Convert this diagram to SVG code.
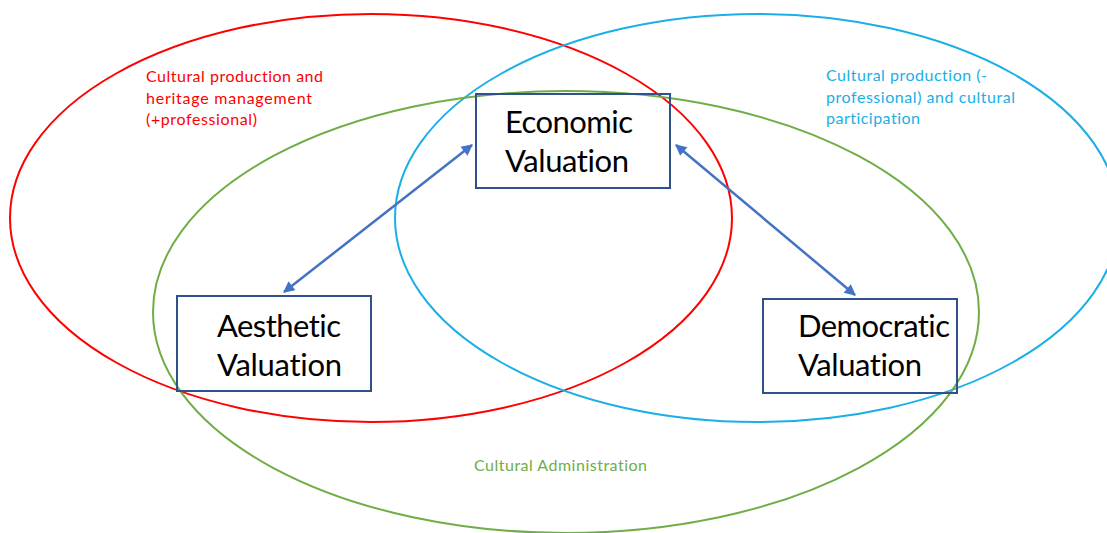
<svg xmlns="http://www.w3.org/2000/svg" width="1107" height="533" viewBox="0 0 1107 533">
<defs>
<style>
text{font-variant-ligatures:none;font-feature-settings:"liga" 0}
.ell{fill:none;stroke-width:2}
.box{fill:none;stroke:#2F528F;stroke-width:2}
.node{font-family:Lato,"Open Sans","Liberation Sans",sans-serif;font-size:31px;fill:#000}
.lbl{font-family:Lato,"Open Sans","Liberation Sans",sans-serif;font-size:16px}
.conn{stroke:#4472C4;stroke-width:2.5;fill:none;marker-start:url(#ah);marker-end:url(#ah)}
</style>
<marker id="ah" viewBox="0 0 10 10" refX="9" refY="5" markerWidth="5.5" markerHeight="4.5" orient="auto-start-reverse" markerUnits="strokeWidth">
<path d="M0,0 L10,5 L0,10 z" fill="#4472C4"/>
</marker>
</defs>
<rect width="1107" height="533" fill="#fff"/>
<g id="circles">
<ellipse id="red-set" class="ell" cx="371" cy="218" rx="361" ry="204" stroke="#FF0000"/>
<ellipse id="blue-set" class="ell" cx="757" cy="218" rx="362" ry="204" stroke="#1AAFE6"/>
<ellipse id="green-set" class="ell" cx="566" cy="312" rx="413" ry="221" stroke="#70AD47"/>
</g>
<g id="labels">
<text class="lbl" fill="#FF0000"><tspan x="146" y="82" textLength="177">Cultural production and</tspan><tspan x="146" y="104" textLength="166">heritage management</tspan><tspan x="146" y="125" textLength="111">(+professional)</tspan></text>
<text class="lbl" fill="#1AAFE6"><tspan x="826" y="81" textLength="161">Cultural production (-</tspan><tspan x="826" y="103" textLength="189">professional) and cultural</tspan><tspan x="826" y="124" textLength="94">participation</tspan></text>
<text class="lbl" fill="#70AD47" x="474" y="471" textLength="173">Cultural Administration</text>
</g>
<g id="connectors">
<line class="conn" x1="472" y1="145" x2="284" y2="292"/>
<line class="conn" x1="676" y1="145" x2="855" y2="295"/>
</g>
<g id="economic">
<rect class="box" x="476" y="94" width="194" height="94"/>
<text class="node"><tspan x="505" y="133" textLength="128">Economic</tspan><tspan x="505" y="172" textLength="124">Valuation</tspan></text>
</g>
<g id="aesthetic">
<rect class="box" x="177" y="296" width="194" height="95"/>
<text class="node"><tspan x="217" y="337" textLength="124">Aesthetic</tspan><tspan x="217" y="376" textLength="125">Valuation</tspan></text>
</g>
<g id="democratic">
<rect class="box" x="763" y="299" width="194" height="94"/>
<text class="node"><tspan x="798" y="337" textLength="152">Democratic</tspan><tspan x="798" y="376" textLength="124">Valuation</tspan></text>
</g>
</svg>
